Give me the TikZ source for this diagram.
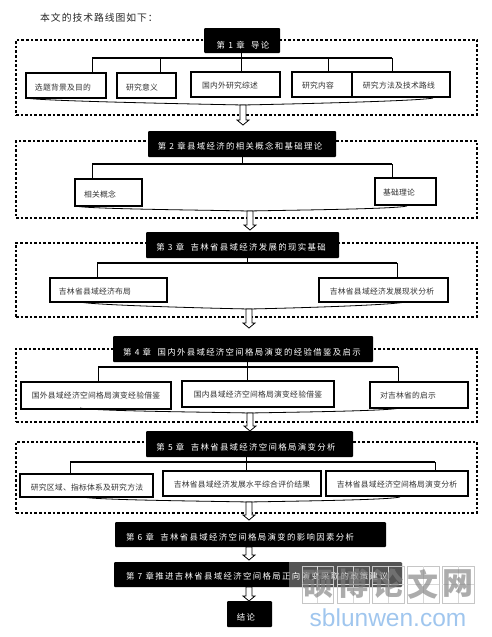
\documentclass[tikz,border=0pt]{standalone}
\usepackage{fontspec}
\setmainfont{Liberation Sans}
\newfontfamily\cjktext{Noto Sans CJK SC}
\newfontfamily\cjktitle[LetterSpace=16]{Noto Sans CJK SC}
\newfontfamily\cjksub[LetterSpace=3]{Noto Sans CJK SC}
\newfontfamily\cjkintro[LetterSpace=10]{Noto Sans CJK SC}
\definecolor{wmblue}{RGB}{160,198,238}
\begin{document}
\begin{tikzpicture}[x=1pt,y=-1pt,
  dashframe/.style={draw,line width=1.2pt,dash pattern=on 2.6pt off 2pt,inner sep=0pt},
  titlebox/.style={fill=black,rounded corners=1pt,inner sep=0pt},
  titletext/.style={text=white,inner sep=0pt,font=\cjktitle\fontsize{8.4}{10}\selectfont},
  subbox/.style={draw,line width=1.3pt,fill=white,inner sep=0pt},
  subtext/.style={inner sep=0pt,text=black!80,font=\cjksub\fontsize{7.8}{9}\selectfont},
  busline/.style={line width=1.3pt},
  dropline/.style={line width=.8pt},
  flowarrow/.style={draw,fill=white,line width=.8pt,line join=miter},
  wmcell/.style={draw=gray!45,line width=.5pt,inner sep=0pt,minimum width=31.5pt,minimum height=37pt}]
\useasboundingbox (0,0) rectangle (491,637);
\node[inner sep=0pt,font=\cjkintro\fontsize{9.8}{11}\selectfont,text=black!85] (intro) at (99,18) {本文的技术路线图如下：};
% dashed frames
\foreach \n/\y/\h in {f1/77.5/75,f2/179.5/77,f3/280/74,f4/385.5/73,f5/477.5/71} {
  \node[dashframe,minimum width=461pt,minimum height=\h pt] (\n) at (246.5,\y) {};
}
% chapter boxes
\foreach \n/\x/\y/\w/\h/\tx/\ty/\txt in {
  t1/242/40.5/76/25/243/45/{第 1 章\ \ 导论},
  t2/242/144/188/26/240/146/{第 2 章县域经济的相关概念和基础理论},
  t3/242.5/245/193/26/241/247/{第 3 章\ \ 吉林省县域经济发展的现实基础},
  t4/243/349/260/26/242/352/{第 4 章\ \ 国内外县域经济空间格局演变的经验借鉴及启示},
  t5/249.5/444/207/26/246/447/{第 5 章\ \ 吉林省县域经济空间格局演变分析},
  t6/250.5/534.5/271/25/240/537/{第 6 章\ \ 吉林省县域经济空间格局演变的影响因素分析},
  t7/258/574.5/288/25/257/576/{第 7 章推进吉林省县域经济空间格局正向演变采取的政策建议},
  t8/249.5/614/45/26/246/617/{结论}} {
  \node[titlebox,minimum width=\w pt,minimum height=\h pt] (\n) at (\x,\y) {};
  \node[titletext] (\n text) at (\tx,\ty) {\txt};
}
% sub boxes
\foreach \n/\x/\y/\w/\h/\tx/\ty/\txt in {
  a1/66/85.5/80/25/63/88/选题背景及目的,
  a2/146.5/85.5/59/25/142/88/研究意义,
  a3/235.5/84.5/89/25/230/86/国内外研究综述,
  a4/322/84.5/60/25/318/86/研究内容,
  a5/401/84.5/98/25/399/86/研究方法及技术路线,
  b1/108.5/192.5/67/27/100/194/相关概念,
  b2/405.5/191.5/61/27/399/192/基础理论,
  c1/108.5/290/117/24/95/292/吉林省县域经济布局,
  c2/383.5/290/129/24/382/292/吉林省县域经济发展现状分析,
  d1/96/395.5/150/27/96/396/国外县域经济空间格局演变经验借鉴,
  d2/258/394/152/26/258/395/国内县域经济空间格局演变经验借鉴,
  d3/419/395/98/26/408/396/对吉林省的启示,
  e1/86.5/485.5/133/23/87/488/研究区域、指标体系及研究方法,
  e2/242/483.5/158/25/242/485/吉林省县域经济发展水平综合评价结果,
  e3/397/483.5/142/25/397/485/吉林省县域经济空间格局演变分析} {
  \node[subbox,minimum width=\w pt,minimum height=\h pt] (\n) at (\x,\y) {};
  \node[subtext] (\n text) at (\tx,\ty) {\txt};
}
% buses under the chapter boxes
\foreach \n/\t/\xl/\xr/\xm/\y in {s1/t1/92/392/241/58,s2/t2/92/392/242/164,s3/t3/97/397/247/263,s4/t4/98/398/247/367,s5/t5/70/435/246/462} {
  \coordinate (\n l) at (\xl,\y);
  \coordinate (\n r) at (\xr,\y);
  \coordinate (\n m) at (\xm,\y);
  \draw[busline] (\n l) -- (\n r);
  \draw[dropline] (\n m) -- (\n m |- \t.south);
}
% drops
\foreach \n/\c in {s1l/a1,s1r/a5,s2l/b1,s2r/b2,s3l/c1,s3r/c2,s4l/d1,s4r/d3,s4m/d2,s5l/e1,s5r/e3,s5m/e2,s1m/a3} {
  \draw[dropline] (\n) -- (\n |- \c.north);
}
\coordinate (s1b) at (160,58);
\coordinate (s1d) at (328,58);
\draw[dropline] (s1b) -- (s1b |- a2.north);
\draw[dropline] (s1d) -- (s1d |- a4.north);
% curved lines gathering each row
\foreach \n/\xl/\ya/\xm/\ym/\xr in {g1/26/98/243/105/433,g2/75/206/249/211/407,g3/80/302/249/309/405,g4/80/408/250/413/400,g5/83/497/249/502/400} {
  \coordinate (\n l) at (\xl,\ya);
  \coordinate (\n m) at (\xm,\ym);
  \coordinate (\n r) at (\xr,\ya);
  \draw[line width=.8pt] (\n l) .. controls (\xl+12,\ya+3) and (\xm-50,\ym-1) .. (\n m)
    .. controls (\xm+50,\ym-1) and (\xr-12,\ya+3) .. (\n r);
}
% block arrows
\foreach \n/\x/\y/\len in {h1/243/105/20,h2/250/211/19,h3/249/309/19,h4/250/413/18,h5/249/502/18,h6/249/547/13,h7/249/587/14} {
  \coordinate (\n) at (\x,\y);
  \draw[flowarrow] (\n) ++(-3,0) -- ++(6,0) -- ++(0,\len-5) -- ++(3,0) -- ++(-6,5) -- ++(-6,-5) -- ++(3,0) -- cycle;
}
% watermark
\fill[white,opacity=.33] (t7.north -| 289,0) rectangle (t7.south east);
\foreach \n/\x/\txt in {w1/317.5/硕,w2/353/博,w3/388/论,w4/423/文,w5/458/网} {
  \node[wmcell] (\n) at (\x,584.5) {};
  \draw[gray!30,line width=.3pt] (\n.north) -- (\n.south) (\n.west) -- (\n.east);
  \node[inner sep=0pt,text=gray,text opacity=.65,font=\cjktext\bfseries\fontsize{31}{33}\selectfont] (\n text) at (\x,584) {\txt};
}
\node[inner sep=0pt,text=wmblue,font=\fontsize{24.5}{28}\selectfont] (wmurl) at (388,618) {sblunwen.com};
\end{tikzpicture}
\end{document}
